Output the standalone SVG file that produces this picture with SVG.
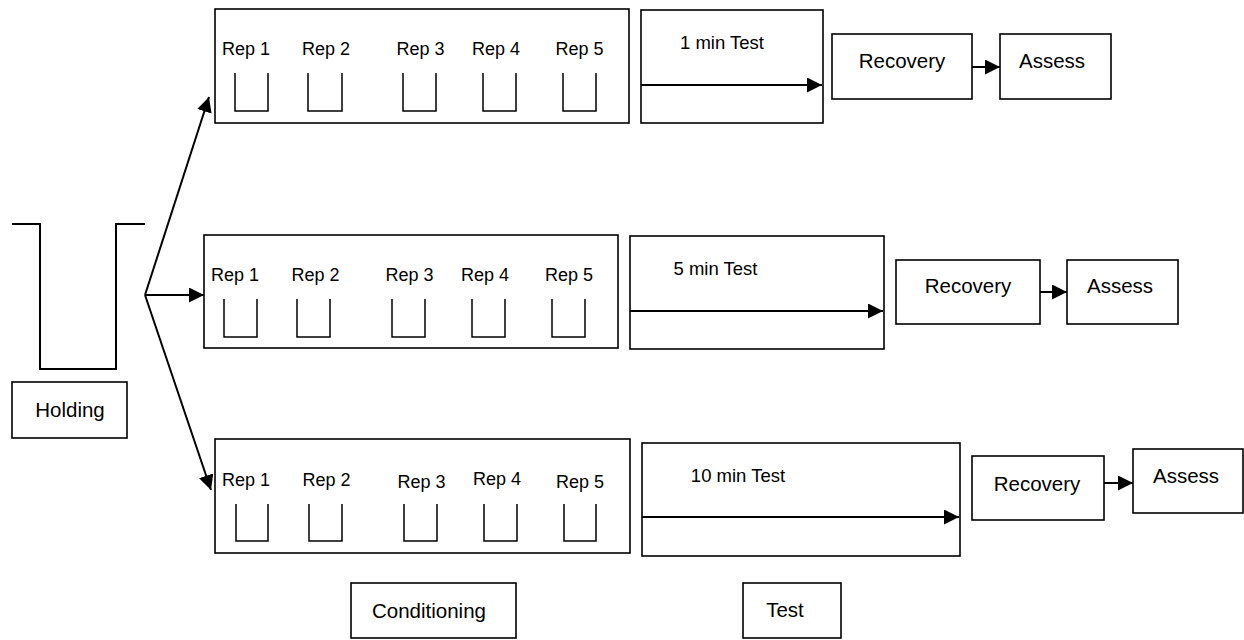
<svg xmlns="http://www.w3.org/2000/svg" width="1244" height="640" viewBox="0 0 1244 640">
<style>
.box{fill:#fff;stroke:#000;stroke-width:1.6}
.cup{fill:none;stroke:#000;stroke-width:1.5}
.conn{fill:none;stroke:#000;stroke-width:2}
.arr{marker-end:url(#ah)}
text{font-family:"Liberation Sans",Arial,sans-serif;fill:#000}
.rep{font-size:18px;text-anchor:middle}
.tl{font-size:18.5px;text-anchor:middle}
.big{font-size:20.5px;text-anchor:middle}
</style>
<defs>
<marker id="ah" markerUnits="userSpaceOnUse" markerWidth="15" markerHeight="15" refX="15" refY="7.5" orient="auto">
<path d="M0,0 L15,7.5 L0,15 z" fill="#000"/>
</marker>
</defs>
<rect width="1244" height="640" fill="#fff"/>

<g id="holding">
<path class="conn" d="M12,224 H40 V369 H116 V224 H145"/>
<rect class="box" x="12" y="382" width="115" height="56"/>
<text class="big" x="70" y="417">Holding</text>
</g>

<g id="cond1">
<rect class="box" x="215" y="9" width="414" height="114"/>
<text class="rep" x="246" y="55">Rep 1</text>
<text class="rep" x="326" y="55">Rep 2</text>
<text class="rep" x="420.5" y="55">Rep 3</text>
<text class="rep" x="496" y="55">Rep 4</text>
<text class="rep" x="579.5" y="55">Rep 5</text>
<path class="cup" d="M235,73 V111 H268 V73 M308,73 V111 H342 V73 M403,73 V111 H436 V73 M483,73 V111 H516 V73 M563,73 V111 H596 V73"/>
</g>

<g id="cond2">
<rect class="box" x="204" y="235" width="414" height="113"/>
<text class="rep" x="235" y="281">Rep 1</text>
<text class="rep" x="315.5" y="281">Rep 2</text>
<text class="rep" x="409.5" y="281">Rep 3</text>
<text class="rep" x="485" y="281">Rep 4</text>
<text class="rep" x="569" y="281">Rep 5</text>
<path class="cup" d="M224,299 V337 H257 V299 M297,299 V337 H330 V299 M392,299 V337 H425 V299 M472,299 V337 H505 V299 M552,299 V337 H585 V299"/>
</g>

<g id="cond3">
<rect class="box" x="215" y="439" width="415" height="114"/>
<text class="rep" x="246" y="486">Rep 1</text>
<text class="rep" x="326.5" y="486">Rep 2</text>
<text class="rep" x="421.5" y="488">Rep 3</text>
<text class="rep" x="497" y="485">Rep 4</text>
<text class="rep" x="580" y="488">Rep 5</text>
<path class="cup" d="M236,504 V541 H268 V504 M309,504 V541 H342 V504 M404,504 V541 H437 V504 M484,504 V541 H517 V504 M564,504 V541 H596 V504"/>
</g>

<g id="test1">
<rect class="box" x="641" y="10" width="182" height="113"/>
<text class="tl" x="722" y="49">1 min Test</text>
</g>
<g id="test2">
<rect class="box" x="630" y="236" width="254" height="113"/>
<text class="tl" x="715.5" y="275">5 min Test</text>
</g>
<g id="test3">
<rect class="box" x="642" y="443" width="318" height="113"/>
<text class="tl" x="738" y="482">10 min Test</text>
</g>

<g id="recovery1">
<rect class="box" x="832" y="34" width="140" height="65"/>
<text class="big" x="902" y="68">Recovery</text>
</g>
<g id="assess1">
<rect class="box" x="1000" y="34" width="111" height="65"/>
<text class="big" x="1052" y="68">Assess</text>
</g>
<g id="recovery2">
<rect class="box" x="896" y="260" width="144" height="64"/>
<text class="big" x="968" y="293">Recovery</text>
</g>
<g id="assess2">
<rect class="box" x="1067" y="260" width="111" height="64"/>
<text class="big" x="1120" y="293">Assess</text>
</g>
<g id="recovery3">
<rect class="box" x="972" y="456" width="132" height="64"/>
<text class="big" x="1037" y="491">Recovery</text>
</g>
<g id="assess3">
<rect class="box" x="1133" y="449" width="110" height="64"/>
<text class="big" x="1186" y="483">Assess</text>
</g>

<g id="conditioning-label">
<rect class="box" x="351" y="583" width="165" height="55"/>
<text class="big" x="429" y="618">Conditioning</text>
</g>
<g id="test-label">
<rect class="box" x="743" y="583" width="98" height="55"/>
<text class="big" x="785" y="617">Test</text>
</g>

<g id="connectors">
<path class="conn arr" d="M145,295 L209,97"/>
<path class="conn arr" d="M145,295 L204,295"/>
<path class="conn arr" d="M145,295 L211,490"/>
<path class="conn arr" d="M641,85 H822"/>
<path class="conn arr" d="M630,311 H883"/>
<path class="conn arr" d="M642,517 H959"/>
<path class="conn arr" d="M972,67 H1000"/>
<path class="conn arr" d="M1040,292 H1067"/>
<path class="conn arr" d="M1104,483 H1133"/>
</g>
</svg>
